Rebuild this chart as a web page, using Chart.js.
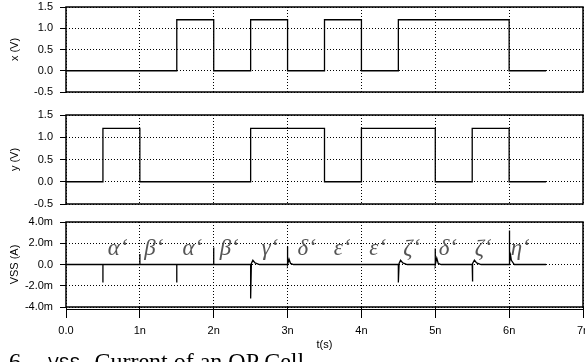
<!DOCTYPE html>
<html>
<head>
<meta charset="utf-8">
<script src="https://cdn.jsdelivr.net/npm/chart.js@4/dist/chart.umd.min.js"></script>
<style>
html,body{margin:0;padding:0;background:#fff;}
body{width:585px;height:362px;overflow:hidden;position:relative;}
canvas{position:absolute;left:0;}
.cap{position:absolute;top:349px;font:24px 'Liberation Serif',serif;white-space:pre;line-height:24px;color:#000;}
.cap .mono{font-family:'Liberation Mono',monospace;font-size:18px;margin-right:8px;}
</style>
</head>
<body>
<canvas id="c1" width="585" height="100" style="top:0"></canvas>
<canvas id="c2" width="585" height="106" style="top:104px"></canvas>
<canvas id="c3" width="585" height="152" style="top:210px"></canvas>
<div class="cap" style="left:9px">6.</div>
<div class="cap" style="left:48px"><span class="mono">VSS</span> Current of an OP Cell</div>
<script>
// input x: change times (ns) and new level (V)
const xTimes  = [0, 1.5, 2.0, 2.5, 3.0, 3.5, 4.0, 4.5, 6.0, 6.5];
const xLevels = [0, 1.2, 0,   1.2, 0,   1.2, 0,   1.2, 0,   0];
// input y
const yTimes  = [0, 0.5, 1.0, 2.5, 3.5, 4.0, 5.0, 5.5, 6.0, 6.5];
const yLevels = [0, 1.2, 0,   1.2, 0,   1.2, 0,   1.2, 0,   0];
// VSS current (ns, mA)
const vssTimes = [0, 0.5, 0.5, 0.5, 1.0, 1.0, 1.0, 1.5, 1.5, 1.5, 2.0, 2.0, 2.0,
  2.5, 2.5, 2.51, 2.53, 2.56, 2.62,
  3.0, 3.0, 3.0, 3.02, 3.04, 3.08,
  4.5, 4.5, 4.51, 4.53, 4.56, 4.62,
  5.0, 5.0, 5.0, 5.02, 5.04, 5.08,
  5.5, 5.5, 5.51, 5.53, 5.56, 5.62,
  6.0, 6.0, 6.01, 6.02, 6.03, 6.07, 6.5];
const vssCurrent = [0, 0, -1.7, 0, 0, 1.0, 0, 0, -1.7, 0, 0, 1.6, 0,
  0, -3.2, 0.1, 0.4, 0.15, 0,
  0, 1.7, 0, 0.5, 0.1, 0,
  0, -1.7, 0.1, 0.4, 0.15, 0,
  0, 1.5, 0, 0.6, 0.1, 0,
  0, -1.6, 0.1, 0.4, 0.15, 0,
  0, 3.2, 0.2, 0.85, 0.4, 0, 0];
// state annotations
const stateLabels = ['α‘', 'β‘', 'α‘', 'β‘', 'γ‘', 'δ‘', 'ε‘', 'ε‘', 'ζ‘', 'δ‘', 'ζ‘', 'η‘'];
const stateTimes  = [0.70, 1.19, 1.71, 2.21, 2.76, 3.26, 3.74, 4.22, 4.68, 5.17, 5.65, 6.15];
const stateLevel = 0.9;
// ticks
const timeTicks = [0, 1, 2, 3, 4, 5, 6, 7];
const voltTicks = [-0.5, 0, 0.5, 1.0, 1.5];
const currTicks = [-4, -2, 0, 2, 4];

const pts = (t, v) => t.map((x, i) => ({x, y: v[i]}));
const tickFont = {family: "'Liberation Sans', Arial, sans-serif", size: 11};

const frame = {
  id: 'frame',
  afterDraw(chart, args, opts){
    const {ctx, chartArea: a} = chart;
    ctx.save();
    ctx.strokeStyle = '#000';
    ctx.lineWidth = 1.5;
    ctx.strokeRect(a.left, a.top, a.right - a.left, a.bottom - a.top);
    if (opts.axisLine) {
      ctx.lineWidth = 1;
      ctx.beginPath();
      ctx.moveTo(a.left, a.bottom + 2.5);
      ctx.lineTo(a.right, a.bottom + 2.5);
      ctx.stroke();
    }
    ctx.restore();
  }
};

const states = {
  id: 'states',
  afterDatasetsDraw(chart, args, opts){
    if (!opts.show) return;
    const {ctx, scales: {x, y}} = chart;
    ctx.save();
    ctx.font = "italic 23px 'Liberation Serif', serif";
    ctx.fillStyle = '#555';
    ctx.textAlign = 'center';
    ctx.textBaseline = 'alphabetic';
    stateLabels.forEach((s, i) => {
      ctx.fillText(s, x.getPixelForValue(stateTimes[i]), y.getPixelForValue(stateLevel));
    });
    ctx.restore();
  }
};

function makeChart(id, data, yTicks, yTitle, fmt, pad, bottom){
  return new Chart(document.getElementById(id), {
    type: 'line',
    data: {datasets: [{
      data, borderColor: '#000', borderWidth: 1.3, pointRadius: 0,
      stepped: bottom ? false : 'before', tension: 0
    }]},
    options: {
      responsive: false, animation: false, devicePixelRatio: 1,
      layout: {padding: pad},
      plugins: {legend: {display: false}, tooltip: {enabled: false},
        frame: {axisLine: bottom}, states: {show: bottom}},
      scales: {
        x: {
          type: 'linear', min: 0, max: 7,
          afterBuildTicks: s => { s.ticks = timeTicks.map(v => ({value: v})); },
          afterFit: s => { s.paddingLeft = 0; s.paddingRight = 0; s.height = bottom ? 55 : 0; },
          grid: {color: '#000', lineWidth: 1, drawTicks: bottom, tickLength: 11, tickColor: '#000', tickWidth: 1},
          border: {display: false, dash: [1, 2]},
          ticks: {display: bottom, font: tickFont, color: '#000', padding: 6, maxRotation: 0,
            callback: v => v === 0 ? '0.0' : v + 'n'},
          title: {display: bottom, text: 't(s)', font: tickFont, color: '#000', padding: {top: 0, bottom: 10}}
        },
        y: {
          min: yTicks[0], max: yTicks[yTicks.length - 1],
          afterBuildTicks: s => { s.ticks = yTicks.map(v => ({value: v})); },
          afterFit: s => { s.paddingTop = 0; s.paddingBottom = 0; s.width = 66; },
          grid: {color: '#000', lineWidth: 1, drawTicks: true, tickLength: 6, tickColor: '#000', tickWidth: 1},
          border: {display: false, dash: [1, 2]},
          ticks: {font: tickFont, color: '#000', padding: 7, callback: fmt},
          title: {display: true, text: yTitle, font: tickFont, color: '#000', padding: {top: 8, bottom: 0}}
        }
      }
    },
    plugins: [frame, states]
  });
}

const voltFmt = v => v.toFixed(1);
const currFmt = v => v === 0 ? '0.0' : v.toFixed(1) + 'm';

makeChart('c1', pts(xTimes, xLevels), voltTicks, 'x (V)', voltFmt, {top: 7, bottom: 8, left: 0, right: 2}, false);
makeChart('c2', pts(yTimes, yLevels), voltTicks, 'y (V)', voltFmt, {top: 11, bottom: 6, left: 0, right: 2}, false);
makeChart('c3', pts(vssTimes, vssCurrent), currTicks, 'VSS (A)', currFmt, {top: 12, bottom: 0, left: 0, right: 2}, true);
</script>
</body>
</html>
